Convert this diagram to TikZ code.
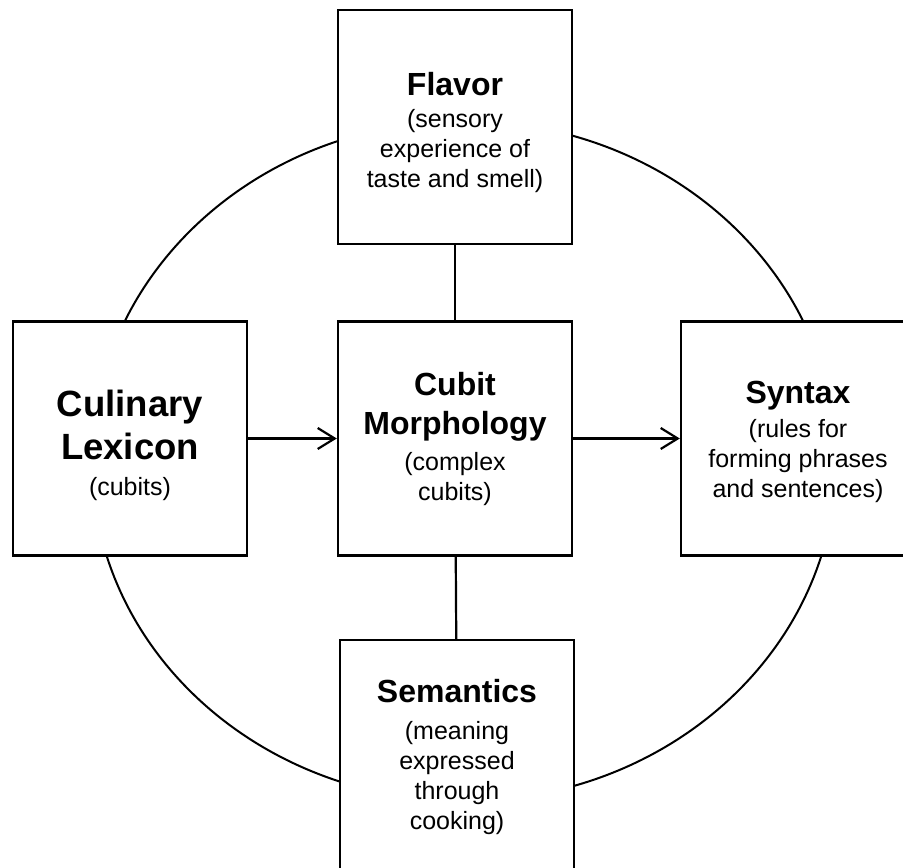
\documentclass[tikz,border=0pt]{standalone}
\usepackage{fontspec}
\setmainfont{Liberation Sans}
\usetikzlibrary{positioning, arrows.meta}

\newcommand\boxtitle[1]{{\fontsize{32}{38}\selectfont\bfseries #1}}
\newcommand\bigtitle[1]{{\fontsize{36.5}{43}\selectfont\bfseries #1}}

\begin{document}
\begin{tikzpicture}[x=1pt,y=1pt,node distance=325pt,on grid,
    box/.style={draw,line width=2.4pt,fill=white,minimum width=234pt,
      minimum height=234pt,inner sep=0pt,align=center,
      font=\fontsize{25}{30}\selectfont},
    >={Straight Barb[length=17pt,width=21pt]}]
  \useasboundingbox (0,0) rectangle (903,868);
  \clip (0,0) rectangle (903,868);
  % the ring behind the boxes
  \draw[line width=2pt] (464,407) ellipse [x radius=372, y radius=340];
  \node[box] (morph) at (455,429.5)
    {\boxtitle{Cubit}\\[9pt]\boxtitle{Morphology}\\[6pt](complex\\cubits)};
  \node[box] (flav) [above=311.5pt of morph]
    {\rule{0pt}{34pt}\boxtitle{Flavor}\\[2pt](sensory\\experience of\\taste and smell)};
  \node[box] (lex) [left=of morph]
    {\rule{0pt}{40pt}\bigtitle{Culinary}\\[8pt]\bigtitle{Lexicon}\\[6pt](cubits)};
  \node[box] (syn) [right=343pt of morph]
    {\rule{0pt}{29pt}\boxtitle{Syntax}\\[4pt](rules for\\forming phrases\\and sentences)};
  \node[box] (sem) [below=318.5pt of morph,xshift=2pt]
    {\boxtitle{Semantics}\\[7pt](meaning\\expressed\\through\\cooking)};
  \path[->,line width=2.2pt]
    (lex) edge (morph)
    (morph) edge (syn);
  \path[line width=2.2pt]
    (flav) edge (morph)
    (morph) edge (sem);
\end{tikzpicture}
\end{document}
